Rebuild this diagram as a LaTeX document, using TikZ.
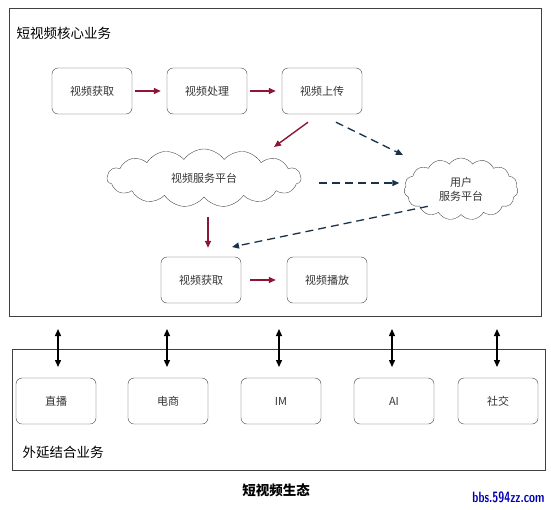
\documentclass[tikz,border=0pt]{standalone}
\usepackage{fontspec}
\newfontfamily\cjk{Noto Sans CJK SC}
\usetikzlibrary{shapes.symbols,arrows.meta}
\definecolor{redarr}{RGB}{140,22,52}
\definecolor{bluearr}{RGB}{25,50,75}
\tikzset{
	bx/.style={draw=black!75, rounded corners=6pt, minimum width=80pt, minimum height=46pt, text=black!80, font=\cjk\fontsize{11}{11}\selectfont},
	cl/.style={cloud, cloud ignores aspect, cloud puffs=15, cloud puff arc=110, draw=black!70, inner sep=0pt, text=black!80, font=\cjk\fontsize{11}{14}\selectfont, align=center},
	ra/.style={-{Triangle[length=7pt,width=6pt]}, redarr, line width=1.4pt},
	ba/.style={-{Triangle[length=7pt,width=6pt]}, bluearr, line width=1.3pt, dash pattern=on 8pt off 5pt},
	da/.style={{Triangle[length=7pt,width=6pt]}-{Triangle[length=7pt,width=6pt]}, line width=1.4pt},
	lbl/.style={anchor=west, font=\cjk\fontsize{13.5}{13.5}\selectfont},
}

\begin{document}
\begin{tikzpicture}[x=1pt,y=-1pt]
	\useasboundingbox (0,0) rectangle (551,509);

	% outer frames
	\draw[black!75] (9,8) rectangle (541,316);
	\draw[black!75] (12,349) rectangle (545,470);
	\node[lbl] (core) at (13,33) {短视频核心业务};
	\node[lbl] (ext) at (19,452) {外延结合业务};

	% core flow
	\node[bx] (get1) at (92,91) {视频获取};
	\node[bx] (proc) at (207,91) {视频处理};
	\node[bx] (up) at (322,91) {视频上传};
	\node[cl, minimum width=194pt, minimum height=58pt] (vsp) at (204,178) {视频服务平台};
	\node[cl, minimum width=114pt, minimum height=62pt] (usp) at (461,189) {用户\\服务平台};
	\node[bx] (get2) at (201,280) {视频获取};
	\node[bx] (play) at (327,280) {视频播放};

	\draw[ra, shorten <=3pt, shorten >=6pt] (get1) -- (proc);
	\draw[ra, shorten <=3pt, shorten >=6pt] (proc) -- (up);
	\draw[ra] (up.south) ++(-14,8) -- (274,147);
	\draw[ba] (up.south) ++(14,8) -- (403,155);
	\draw[ba] (vsp.east) ++(18,5) -- ++(80,0);
	\draw[ra] (get2.north) ++(7,-40) -- ++(0,31);
	\draw[ba] (usp.south west) ++(6,-4) -- (232,247);
	\draw[ra, shorten <=9pt, shorten >=11pt] (get2) -- (play);

	% extension businesses
	\node[bx] (live) at (56,401) {直播};
	\node[bx] (shop) at (168,401) {电商};
	\node[bx] (im) at (281,401) {IM};
	\node[bx] (ai) at (394,401) {AI};
	\node[bx] (soc) at (498,401) {社交};
	\foreach \n/\x in {live/58,shop/167,im/279,ai/392,soc/497}
		\draw[da] (\x,329) -- (\x,367);

	% caption
	\node[font=\cjk\bfseries\fontsize{13.5}{13.5}\selectfont] (cap) at (276,490) {短视频生态};
	\node[font=\sffamily\bfseries\fontsize{15}{15}\selectfont, xscale=0.72, text=blue!70!black, anchor=east] (wm) at (547,497) {bbs.594zz.com};
\end{tikzpicture}
\end{document}
